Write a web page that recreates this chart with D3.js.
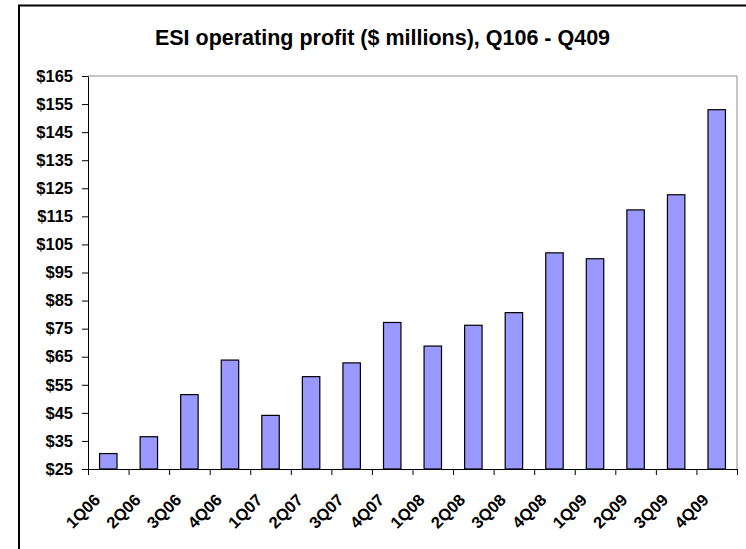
<!DOCTYPE html>
<html>
<head>
<meta charset="utf-8">
<script src="https://cdn.jsdelivr.net/npm/d3@7"></script>
<style>
  html, body { margin: 0; padding: 0; background: #fff; }
  svg { display: block; font-family: "Liberation Sans", Arial, sans-serif; }
</style>
</head>
<body>
<svg id="chart" width="746" height="549"></svg>
<script>
// Quarterly ESI operating profit, $ millions
const quarters = ["1Q06","2Q06","3Q06","4Q06","1Q07","2Q07","3Q07","4Q07",
                  "1Q08","2Q08","3Q08","4Q08","1Q09","2Q09","3Q09","4Q09"];
const profit = [30.5, 36.5, 51.5, 63.8, 44.1, 57.9, 62.8, 77.2,
                68.8, 76.2, 80.7, 102, 99.9, 117.3, 122.7, 153];
const yTicks = [25, 35, 45, 55, 65, 75, 85, 95, 105, 115, 125, 135, 145, 155, 165];
const titleText = "ESI operating profit ($ millions), Q106 - Q409";

const svg = d3.select("#chart");
const plot = { left: 88, right: 737, top: 76, bottom: 469 };

// outer chart frame (right and bottom edges run past the page)
svg.append("rect")
  .attr("x", 19).attr("y", 5.5)
  .attr("width", 760).attr("height", 560)
  .attr("fill", "#fff").attr("stroke", "#000").attr("stroke-width", 2);

svg.append("text")
  .attr("x", 382.5).attr("y", 45)
  .attr("text-anchor", "middle")
  .attr("font-size", "21.5px").attr("font-weight", "bold")
  .text(titleText);

const x = d3.scaleBand()
  .domain(quarters)
  .range([plot.left, plot.right])
  .paddingInner(0.57).paddingOuter(0.285);

const slot = d3.scaleLinear().domain([0, quarters.length]).range([plot.left, plot.right]);

const y = d3.scaleLinear().domain([25, 165]).range([plot.bottom, plot.top]);

// plot area border (top/right in grey)
svg.append("path")
  .attr("d", `M${plot.left},${plot.top}H${plot.right}V${plot.bottom}`)
  .attr("fill", "none").attr("stroke", "#8c8c8c").attr("stroke-width", 1);

// bars
svg.append("g").selectAll("rect")
  .data(profit)
  .join("rect")
  .attr("x", (d, i) => x(quarters[i]))
  .attr("y", d => y(d))
  .attr("width", x.bandwidth())
  .attr("height", d => y(25) - y(d))
  .attr("fill", "#9999ff")
  .attr("stroke", "#000").attr("stroke-width", 1.2);

// y axis
const yAxis = svg.append("g")
  .attr("transform", `translate(${plot.left},0)`)
  .call(d3.axisLeft(y).tickValues(yTicks).tickFormat(d => "$" + d)
        .tickSize(6).tickPadding(9).tickSizeOuter(0));
yAxis.select(".domain").attr("stroke", "#000");
yAxis.selectAll(".tick line").attr("stroke", "#000");
yAxis.selectAll("text")
  .attr("font-size", "16.5px").attr("font-weight", "bold")
  .attr("font-family", "'Liberation Sans', Arial, sans-serif")
  .attr("fill", "#000");

// x axis: ticks on category boundaries
const xAxis = svg.append("g")
  .attr("transform", `translate(0,${plot.bottom})`)
  .call(d3.axisBottom(slot).tickValues(d3.range(quarters.length + 1))
        .tickFormat("").tickSize(6).tickSizeOuter(0));
xAxis.select(".domain").attr("stroke", "#000");
xAxis.selectAll(".tick line").attr("stroke", "#000");

// rotated category labels
svg.append("g").selectAll("text")
  .data(quarters)
  .join("text")
  .attr("transform", d => `translate(${x(d) + x.bandwidth() / 2 - 7},${plot.bottom + 32}) rotate(-45)`)
  .attr("text-anchor", "end")
  .attr("font-size", "16.5px").attr("font-weight", "bold")
  .text(d => d);
</script>
</body>
</html>
